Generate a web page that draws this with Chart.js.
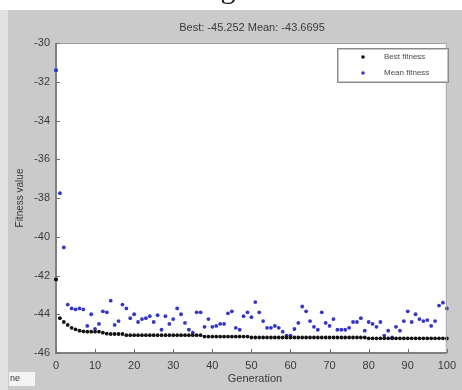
<!DOCTYPE html>
<html>
<head>
<meta charset="utf-8">
<script src="https://cdn.jsdelivr.net/npm/chart.js@4.4.1/dist/chart.umd.min.js"></script>
<style>
  html, body { margin: 0; padding: 0; background: #ffffff; }
  #wrap { position: relative; width: 462px; height: 390px; }
</style>
</head>
<body>
<div id="wrap"><canvas id="c" width="462" height="390"></canvas></div>
<script>
// ---------- data ----------
const titleText = 'Best: -45.252 Mean: -43.6695';
const xAxisLabel = 'Generation';
const yAxisLabel = 'Fitness value';
const seriesNames = ['Best fitness', 'Mean fitness'];
const xTicks = [0, 10, 20, 30, 40, 50, 60, 70, 80, 90, 100];
const yTicks = [-30, -32, -34, -36, -38, -40, -42, -44, -46];
const generations = Array.from({length: 101}, (_, i) => i);

const bestFitness = [
  -42.2, -44.2, -44.4, -44.55, -44.7, -44.78, -44.85, -44.88, -44.9, -44.9,
  -44.9, -44.9, -44.95, -45.0, -45.02, -45.02, -45.02, -45.02, -45.08, -45.08,
  -45.08, -45.08, -45.08, -45.08, -45.08, -45.08, -45.08, -45.08, -45.08, -45.08,
  -45.08, -45.08, -45.08, -45.08, -45.08, -45.08, -45.08, -45.08, -45.15, -45.15,
  -45.15, -45.15, -45.15, -45.15, -45.15, -45.15, -45.15, -45.15, -45.15, -45.15,
  -45.2, -45.2, -45.2, -45.2, -45.2, -45.2, -45.2, -45.2, -45.2, -45.2,
  -45.2, -45.2, -45.2, -45.2, -45.2, -45.2, -45.2, -45.2, -45.2, -45.2,
  -45.2, -45.2, -45.2, -45.2, -45.2, -45.2, -45.2, -45.2, -45.2, -45.2,
  -45.24, -45.24, -45.24, -45.24, -45.24, -45.24, -45.24, -45.24, -45.24, -45.24,
  -45.24, -45.24, -45.24, -45.24, -45.24, -45.24, -45.24, -45.24, -45.24, -45.24,
  -45.252
];
const meanFitness = [
  -31.4, -37.75, -40.55, -43.5, -43.7, -43.75, -43.7, -43.75, -44.6, -44.0,
  -44.75, -44.5, -43.85, -43.9, -43.3, -44.55, -44.35, -43.5, -43.7, -44.2,
  -44.0, -44.4, -44.25, -44.2, -44.1, -44.4, -44.05, -44.8, -44.1, -44.5,
  -44.25, -43.7, -44.0, -44.45, -44.8, -44.95, -43.9, -43.9, -44.65, -44.25,
  -44.65, -44.6, -44.5, -44.5, -43.95, -43.85, -44.7, -44.8, -44.1, -43.9,
  -44.15, -43.37, -43.9, -44.35, -44.7, -44.7, -44.6, -44.7, -44.9, -45.1,
  -45.1, -44.76, -44.45, -43.6, -43.85, -44.35, -44.65, -44.8, -43.9, -44.45,
  -44.6, -44.25, -44.8, -44.8, -44.8, -44.7, -44.4, -44.4, -44.2, -44.85,
  -44.4, -44.5, -44.65, -44.4, -45.1, -44.85, -45.2, -44.65, -44.85, -44.35,
  -43.85, -44.4, -44.0, -44.25, -44.35, -44.3, -44.6, -44.35, -43.55, -43.4,
  -43.7
];

// ---------- styles ----------
const FIG_BG = '#cacaca';
const AXIS_COL = '#808080';
const TEXT_COL = '#3a3a3a';
const BEST_COL = '#111111';
const MEAN_COL = '#3535c8';
const FONT = "'Liberation Sans', Arial, sans-serif";

const decorPlugin = {
  id: 'decor',
  beforeDraw(chart) {
    const ctx = chart.ctx, a = chart.chartArea;
    ctx.save();
    ctx.fillStyle = '#ffffff';
    ctx.fillRect(0, 0, chart.width, chart.height);
    ctx.fillStyle = FIG_BG;
    ctx.fillRect(8, 10, chart.width - 8, chart.height - 10);
    ctx.fillStyle = '#e2e2e2';
    ctx.fillRect(0, 10, 8, chart.height - 10);
    ctx.fillStyle = '#ffffff';
    ctx.fillRect(a.left, a.top, a.right - a.left, a.bottom - a.top);
    // cut-off caption glyph at the very top
    ctx.fillStyle = '#222';
    ctx.font = "30px 'Liberation Serif', serif";
    ctx.textAlign = 'center';
    ctx.textBaseline = 'alphabetic';
    ctx.fillText('g', 228, -2);
    ctx.restore();
  },
  afterDraw(chart) {
    const ctx = chart.ctx, a = chart.chartArea;
    const xs = chart.scales.x, ys = chart.scales.y;
    ctx.save();
    // box
    ctx.strokeStyle = '#a0a0a0';
    ctx.lineWidth = 1;
    ctx.strokeRect(a.left + 0.5, a.top + 0.5, a.right - a.left - 1, a.bottom - a.top - 1);
    ctx.strokeStyle = AXIS_COL;
    ctx.lineWidth = 2;
    ctx.beginPath();
    ctx.moveTo(a.left, a.top);
    ctx.lineTo(a.left, a.bottom);
    ctx.lineTo(a.right, a.bottom);
    ctx.stroke();
    // inward ticks
    ctx.lineWidth = 1;
    ctx.strokeStyle = '#707070';
    ctx.beginPath();
    yTicks.forEach(v => {
      const y = Math.round(ys.getPixelForValue(v)) + 0.5;
      ctx.moveTo(a.left, y); ctx.lineTo(a.left + 4, y);
    });
    xTicks.forEach(v => {
      const x = Math.round(xs.getPixelForValue(v)) + 0.5;
      ctx.moveTo(x, a.bottom); ctx.lineTo(x, a.bottom - 4);
    });
    ctx.stroke();
    // redraw points sitting on the left axis so they stay on top
    chart.data.datasets.forEach((ds, i) => {
      const meta = chart.getDatasetMeta(i);
      const el = meta.data[0];
      ctx.fillStyle = ds.backgroundColor;
      ctx.beginPath();
      ctx.arc(el.x, el.y, ds.pointRadius, 0, Math.PI * 2);
      ctx.fill();
    });
    // title
    ctx.fillStyle = TEXT_COL;
    ctx.font = '11px ' + FONT;
    ctx.textAlign = 'center';
    ctx.textBaseline = 'middle';
    ctx.fillText(titleText, 252, 28);
    // x label
    ctx.fillText(xAxisLabel, 255, 379);
    // y label
    ctx.save();
    ctx.translate(20, (a.top + a.bottom) / 2);
    ctx.rotate(-Math.PI / 2);
    ctx.font = '10px ' + FONT;
    ctx.fillText(yAxisLabel, 0, 0);
    ctx.restore();
    // legend
    const lx = 337, ly = 48, lw = 111, lh = 34;
    ctx.fillStyle = '#ffffff';
    ctx.fillRect(lx, ly, lw, lh);
    ctx.strokeStyle = '#8a8a8a';
    ctx.lineWidth = 1;
    ctx.strokeRect(lx + 0.5, ly + 0.5, lw, lh);
    ctx.strokeStyle = '#c4c4c4';
    ctx.strokeRect(lx + 1.5, ly + 1.5, lw - 2, lh - 2);
    chart.data.datasets.forEach((ds, i) => {
      const yy = ly + 9 + i * 16;
      ctx.fillStyle = ds.backgroundColor;
      ctx.beginPath();
      ctx.arc(363, yy, 1.8, 0, Math.PI * 2);
      ctx.fill();
      ctx.fillStyle = '#4a4a4a';
      ctx.font = '8px ' + FONT;
      ctx.textAlign = 'left';
      ctx.textBaseline = 'middle';
      ctx.fillText(ds.label, 384, yy);
    });
    // bottom-left clipped button
    ctx.fillStyle = '#f4f4f4';
    ctx.fillRect(9, 372, 26, 14);
    ctx.fillStyle = '#333';
    ctx.font = '9px ' + FONT;
    ctx.textAlign = 'left';
    ctx.textBaseline = 'middle';
    ctx.fillText('ne', 10, 379);
    ctx.restore();
  }
};

new Chart(document.getElementById('c'), {
  type: 'scatter',
  data: {
    datasets: [
      {
        label: seriesNames[0],
        data: generations.map((g, i) => ({x: g, y: bestFitness[i]})),
        backgroundColor: BEST_COL,
        borderWidth: 0,
        pointRadius: 1.9,
        clip: false
      },
      {
        label: seriesNames[1],
        data: generations.map((g, i) => ({x: g, y: meanFitness[i]})),
        backgroundColor: MEAN_COL,
        borderWidth: 0,
        pointRadius: 1.9,
        clip: false
      }
    ]
  },
  plugins: [decorPlugin],
  options: {
    responsive: false,
    animation: false,
    events: [],
    layout: { padding: { left: 0, top: 43, right: 10, bottom: 0 } },
    plugins: { legend: { display: false }, tooltip: { enabled: false }, title: { display: false } },
    scales: {
      x: {
        type: 'linear',
        min: 0, max: 100,
        afterBuildTicks(scale) { scale.ticks = xTicks.map(v => ({value: v})); },
        afterFit(scale) { scale.height = 37; },
        grid: { display: false, drawTicks: false },
        border: { display: false },
        ticks: { color: TEXT_COL, font: { family: FONT, size: 11 }, padding: 6, maxRotation: 0, autoSkip: false }
      },
      y: {
        type: 'linear',
        min: -46, max: -30,
        afterBuildTicks(scale) { scale.ticks = yTicks.map(v => ({value: v})); },
        afterFit(scale) { scale.width = 56; },
        grid: { display: false, drawTicks: false },
        border: { display: false },
        ticks: { color: TEXT_COL, font: { family: FONT, size: 11 }, padding: 6, autoSkip: false }
      }
    }
  }
});
</script>
</body>
</html>
